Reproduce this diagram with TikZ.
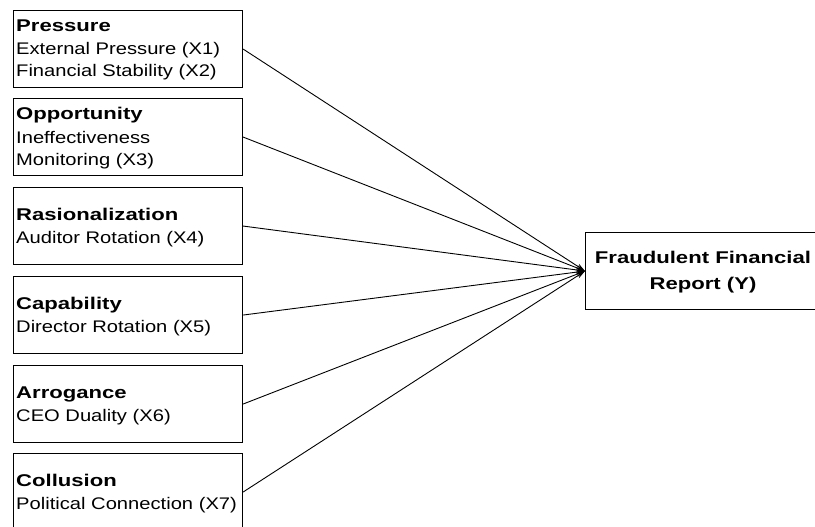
\documentclass[tikz,border=0pt]{standalone}
\usepackage{fontspec}
\setmainfont{Liberation Sans}
\usetikzlibrary{arrows.meta}
\newcommand{\wideb}[1]{\scalebox{1.3}[1]{#1}}
\newcommand{\wider}[1]{\scalebox{1.2}[1]{#1}}
\tikzset{
  box/.style={draw, line width=1.1pt, minimum width=229pt, minimum height=77pt, anchor=north west, inner sep=0pt},
  ttl/.style={anchor=base west, inner sep=0pt, font=\fontsize{17}{19}\selectfont\bfseries},
  sub/.style={anchor=base west, inner sep=0pt, font=\fontsize{16.8}{19}\selectfont},
  ytxt/.style={anchor=base, inner sep=0pt, font=\fontsize{17}{19}\selectfont\bfseries},
  link/.style={line width=0.9pt, -{Stealth[length=9pt,width=5.5pt]}}
}
\begin{document}
\begin{tikzpicture}[x=1pt,y=-1pt]
\useasboundingbox (0,0) rectangle (815,527);
% boxes
\node[box] (b1) at (13,10) {};
\node[box] (b2) at (13,98) {};
\node[box] (b3) at (13,187) {};
\node[box] (b4) at (13,276) {};
\node[box] (b5) at (13,365) {};
\node[box] (b6) at (13,453) {};
\node[box, minimum width=236pt] (y) at (585,232) {};
% texts
\node[ttl] (t1) at (16,32) {\wideb{Pressure}};
\node[sub] (s1a) at (16,55) {\wider{External Pressure (X1)}};
\node[sub] (s1b) at (16,77) {\wider{Financial Stability (X2)}};
\node[ttl] (t2) at (16,120) {\wideb{Opportunity}};
\node[sub] (s2a) at (16,143) {\wider{Ineffectiveness}};
\node[sub] (s2b) at (16,165) {\wider{Monitoring (X3)}};
\node[ttl] (t3) at (16,220) {\wideb{Rasionalization}};
\node[sub] (s3) at (16,243) {\wider{Auditor Rotation (X4)}};
\node[ttl] (t4) at (16,309) {\wideb{Capability}};
\node[sub] (s4) at (16,332) {\wider{Director Rotation (X5)}};
\node[ttl] (t5) at (16,398) {\wideb{Arrogance}};
\node[sub] (s5) at (16,421) {\wider{CEO Duality (X6)}};
\node[ttl] (t6) at (16,486) {\wideb{Collusion}};
\node[sub] (s6) at (16,509) {\wider{Political Connection (X7)}};
\node[ytxt] (y1) at (703,263) {\wideb{Fraudulent Financial}};
\node[ytxt] (y2) at (703,289) {\wideb{Report (Y)}};
% links
\foreach \b in {b1,b2,b3,b4,b5,b6}
  \draw[link] (\b.east) -- (y.west);
\end{tikzpicture}
\end{document}
